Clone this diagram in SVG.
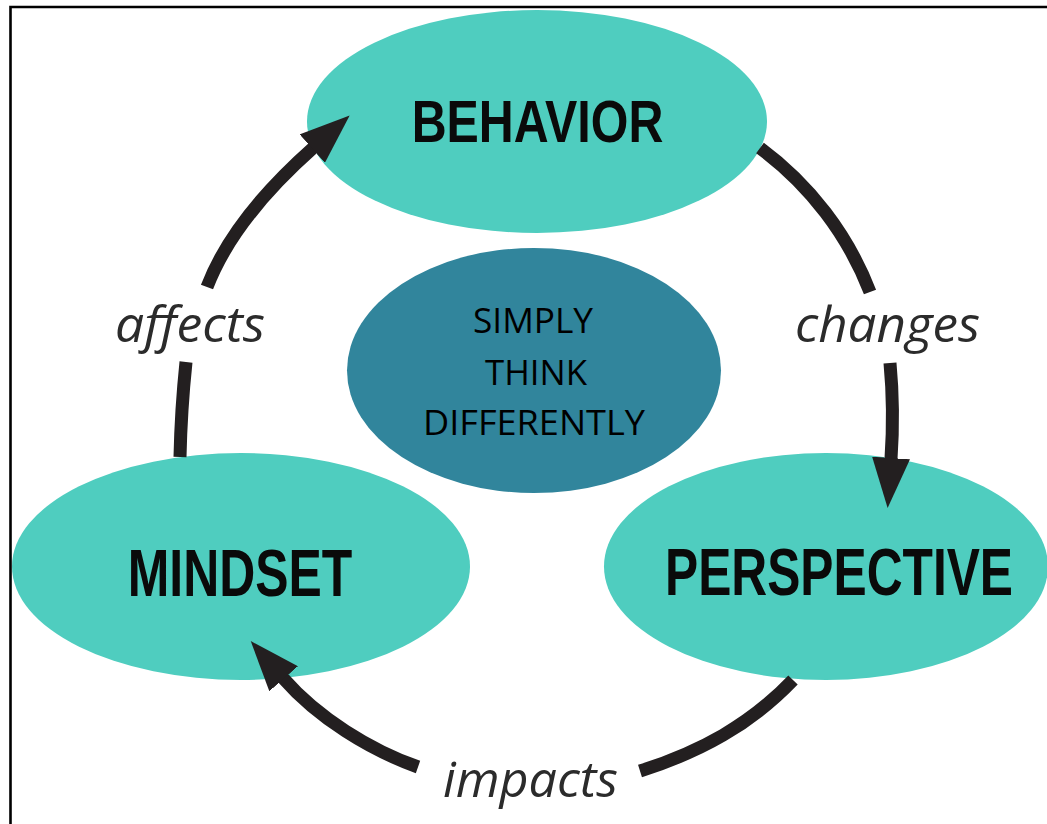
<svg xmlns="http://www.w3.org/2000/svg" width="1047" height="824" viewBox="0 0 1047 824">
  <style>
    .stage { fill: #4fcdbf; }
    .core { fill: #31859c; }
    .stage-label { font-family: "Liberation Sans", Arial, sans-serif; font-weight: bold; fill: #0a0a0a; text-anchor: middle; }
    .core-label { font-family: "Open Sans", "Liberation Sans", sans-serif; font-size: 35px; fill: #000; text-anchor: middle; }
    .verb { font-family: "Open Sans", "Liberation Sans", sans-serif; font-style: italic; font-size: 50px; fill: #2b2b2b; }
    .flow { fill: none; stroke: #231f20; stroke-width: 13; stroke-linecap: butt; }
    .frame { stroke: #000; stroke-width: 2.6; fill: none; }
  </style>
  <defs>
    <marker id="head" markerUnits="userSpaceOnUse" viewBox="0 0 50 38" markerWidth="50" markerHeight="38" refX="1" refY="19" orient="auto">
      <path d="M0,0 L50,19 L0,38 Z" fill="#231f20"/>
    </marker>
  </defs>

  <rect width="1047" height="824" fill="#ffffff"/>
  <!-- frame: left and top rules -->
  <path class="frame" d="M10.5,824 L10.5,7 L1047,7"/>

  <g id="node-behavior">
    <ellipse class="stage" cx="537" cy="121.5" rx="230" ry="111.5"/>
    <!-- condensed bold caption: horizontal squeeze keeps the glyphs narrow -->
    <text class="stage-label" transform="translate(537.5,142) scale(0.82,1)" x="0" y="0" font-size="59">BEHAVIOR</text>
  </g>

  <g id="node-mindset">
    <ellipse class="stage" cx="241" cy="566.5" rx="229" ry="113.5"/>
    <text class="stage-label" transform="translate(240,596) scale(0.745,1)" x="0" y="0" font-size="67">MINDSET</text>
  </g>

  <g id="node-perspective">
    <ellipse class="stage" cx="826" cy="566.5" rx="222" ry="113.5"/>
    <text class="stage-label" transform="translate(839,595) scale(0.742,1)" x="0" y="0" font-size="67">PERSPECTIVE</text>
  </g>

  <g id="node-core">
    <ellipse class="core" cx="534" cy="370.5" rx="187" ry="122.5"/>
    <text class="core-label" x="533" y="333" textLength="120" lengthAdjust="spacingAndGlyphs">SIMPLY</text>
    <text class="core-label" x="536" y="385" textLength="102" lengthAdjust="spacingAndGlyphs">THINK</text>
    <text class="core-label" x="534" y="435" textLength="222" lengthAdjust="spacingAndGlyphs">DIFFERENTLY</text>
  </g>

  <g id="connectors">
    <!-- mindset -> behavior -->
    <path class="flow" d="M180,457 Q181,410 186,362"/>
    <path class="flow" d="M207,287 C225,240 260,195 313,148" marker-end="url(#head)"/>
    <text class="verb" x="115" y="342" textLength="150" lengthAdjust="spacingAndGlyphs">affects</text>

    <!-- behavior -> perspective -->
    <path class="flow" d="M760,148 C810,185 848,235 870,292"/>
    <path class="flow" d="M890,363 C893,395 893,430 891,459" marker-end="url(#head)"/>
    <text class="verb" x="795" y="342" textLength="185" lengthAdjust="spacingAndGlyphs">changes</text>

    <!-- perspective -> mindset -->
    <path class="flow" d="M793,680 C750,725 700,752 640,771"/>
    <path class="flow" d="M418,767 C370,750 318,718 283,678" marker-end="url(#head)"/>
    <text class="verb" x="443" y="797" textLength="175" lengthAdjust="spacingAndGlyphs">impacts</text>
  </g>
</svg>
